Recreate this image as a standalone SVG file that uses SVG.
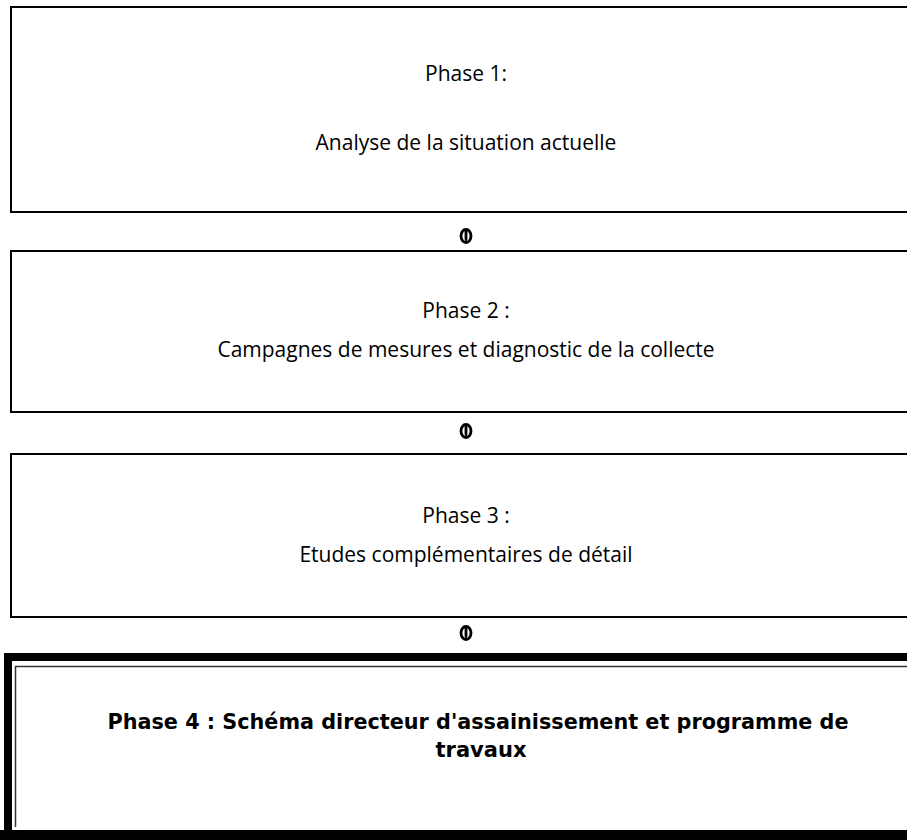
<svg xmlns="http://www.w3.org/2000/svg" width="907" height="840" viewBox="0 0 907 840">
<style>
.box{fill:#fff;stroke:#000;stroke-width:2}
.t{font-family:"Open Sans","Liberation Sans",sans-serif;font-size:21px;fill:#000;text-anchor:middle}
.b{font-family:"DejaVu Sans","Liberation Sans",sans-serif;font-weight:bold;font-size:21px;fill:#000;text-anchor:middle}
</style>
<defs>
<g id="arr">
<ellipse cx="0" cy="0" rx="5" ry="6.5" fill="none" stroke="#000" stroke-width="2.8"/>
<path d="M-1.4,-6.5 L1.4,-6.5 L1.4,3 L0,7 L-1.4,3 Z" fill="#000"/>
</g>
</defs>
<rect width="907" height="840" fill="#fff"/>
<g id="phase1">
<rect class="box" x="11" y="7" width="920" height="205"/>
<text class="t" x="466" y="81">Phase 1:</text>
<text class="t" x="466" y="150">Analyse de la situation actuelle</text>
</g>
<g id="phase2">
<rect class="box" x="11" y="251" width="920" height="161"/>
<text class="t" x="466" y="318">Phase 2 :</text>
<text class="t" x="466" y="357">Campagnes de mesures et diagnostic de la collecte</text>
</g>
<g id="phase3">
<rect class="box" x="11" y="454" width="920" height="163"/>
<text class="t" x="466" y="523">Phase 3 :</text>
<text class="t" x="466" y="562">Etudes complémentaires de détail</text>
</g>
<g id="phase4">
<rect x="0" y="653" width="920" height="200" fill="#fff"/>
<path d="M4,653 H920 V661 H12 V840 H4 Z" fill="#000"/>
<rect x="0" y="830" width="920" height="10" fill="#000"/>
<path d="M920,666.5 H15.5 V827" fill="none" stroke="#333" stroke-width="1.5"/>
<text class="b" x="478" y="729" textLength="741" lengthAdjust="spacingAndGlyphs">Phase 4 : Schéma directeur d'assainissement et programme de</text>
<text class="b" x="481" y="757">travaux</text>
</g>
<g id="connectors">
<use href="#arr" x="466" y="236"/>
<use href="#arr" x="466" y="431"/>
<use href="#arr" x="466" y="633"/>
</g>
</svg>
